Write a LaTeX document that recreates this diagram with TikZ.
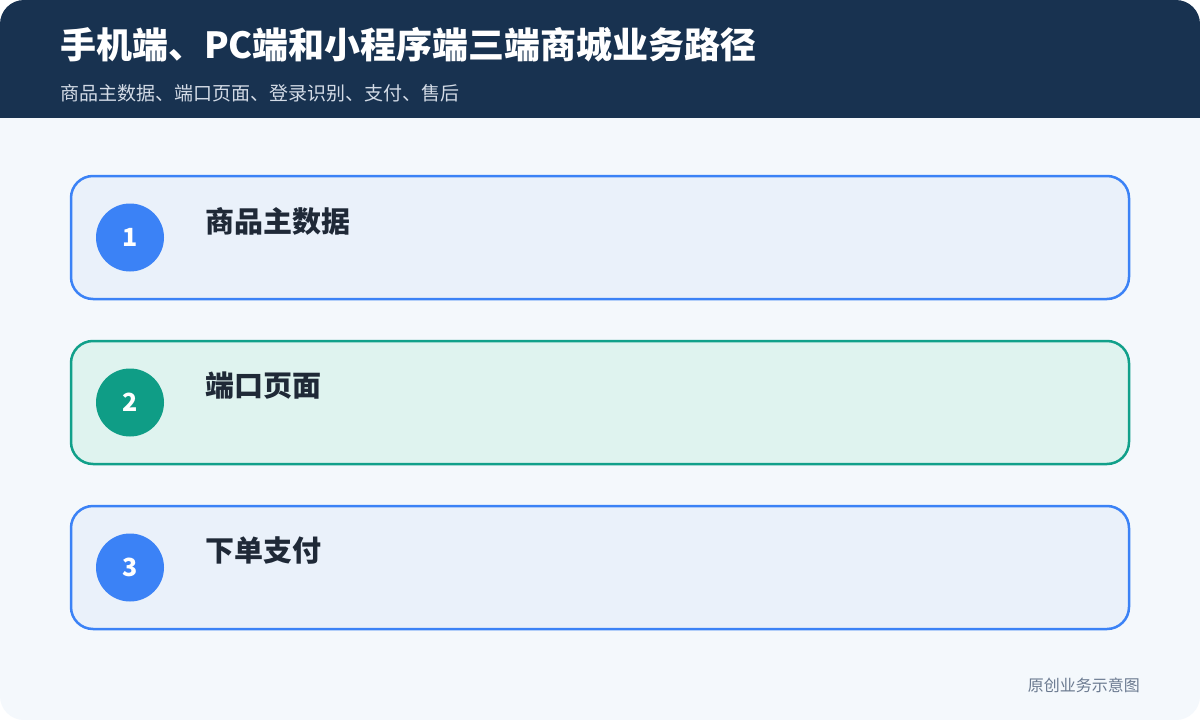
\documentclass[tikz,border=0pt]{standalone}
\usepackage{fontspec}
\setmainfont{Noto Sans CJK SC}
\usepackage{xcolor}
\usetikzlibrary{positioning}

\definecolor{headnavy}{HTML}{183250}
\definecolor{pagebg}{HTML}{F4F8FC}
\definecolor{bluering}{HTML}{3B82F6}
\definecolor{bluefill}{HTML}{EAF1FA}
\definecolor{greenring}{HTML}{11A08A}
\definecolor{greenfill}{HTML}{DFF3EF}
\definecolor{greendot}{HTML}{0F9D86}
\definecolor{inkdark}{HTML}{1F2937}
\definecolor{subgrey}{HTML}{D3DBE6}
\definecolor{notegrey}{HTML}{6B7A90}

\tikzset{
  card/.style={line width=2.5pt, rounded corners=22pt, minimum width=1058pt, minimum height=123pt, inner sep=0pt},
  badge/.style={circle, minimum size=68pt, inner sep=0pt, text=white, font=\bfseries\fontsize{25}{28}\selectfont},
  cardtitle/.style={anchor=west, inner sep=0pt, text=inkdark, font=\bfseries\fontsize{29}{32}\selectfont}
}

\begin{document}
\begin{tikzpicture}[x=1pt, y=-1pt]
  \useasboundingbox (0,0) rectangle (1200,720);
  \fill[white] (0,0) rectangle (1200,720);
  \begin{scope}
    \clip[rounded corners=24pt] (0,0) rectangle (1200,720);
    \fill[pagebg] (0,0) rectangle (1200,720);
    \fill[headnavy] (0,0) rectangle (1200,118);
  \end{scope}

  % header
  \node[anchor=west, inner sep=0pt, text=white, font=\bfseries\fontsize{36}{40}\selectfont]
      (title) at (60,45) {手机端、PC端和小程序端三端商城业务路径};
  \node[anchor=west, inner sep=0pt, text=subgrey, font=\fontsize{19}{23}\selectfont]
      (subtitle) at (60,93) {商品主数据、端口页面、登录识别、支付、售后};

  % step 1
  \node[card, draw=bluering, fill=bluefill] (card1) at (600,237.5) {};
  \node[badge, fill=bluering] (dot1) at (130,237.5) {1};
  \node[cardtitle] (name1) at (205,221) {商品主数据};

  % step 2
  \node[card, draw=greenring, fill=greenfill] (card2) at (600,402.5) {};
  \node[badge, fill=greendot] (dot2) at (130,402.5) {2};
  \node[cardtitle] (name2) at (205,386) {端口页面};

  % step 3
  \node[card, draw=bluering, fill=bluefill] (card3) at (600,567.5) {};
  \node[badge, fill=bluering] (dot3) at (130,567.5) {3};
  \node[cardtitle] (name3) at (205,551) {下单支付};

  % footer
  \node[anchor=east, inner sep=0pt, text=notegrey, font=\fontsize{16}{18}\selectfont]
      (note) at (1140,685) {原创业务示意图};
\end{tikzpicture}
\end{document}
